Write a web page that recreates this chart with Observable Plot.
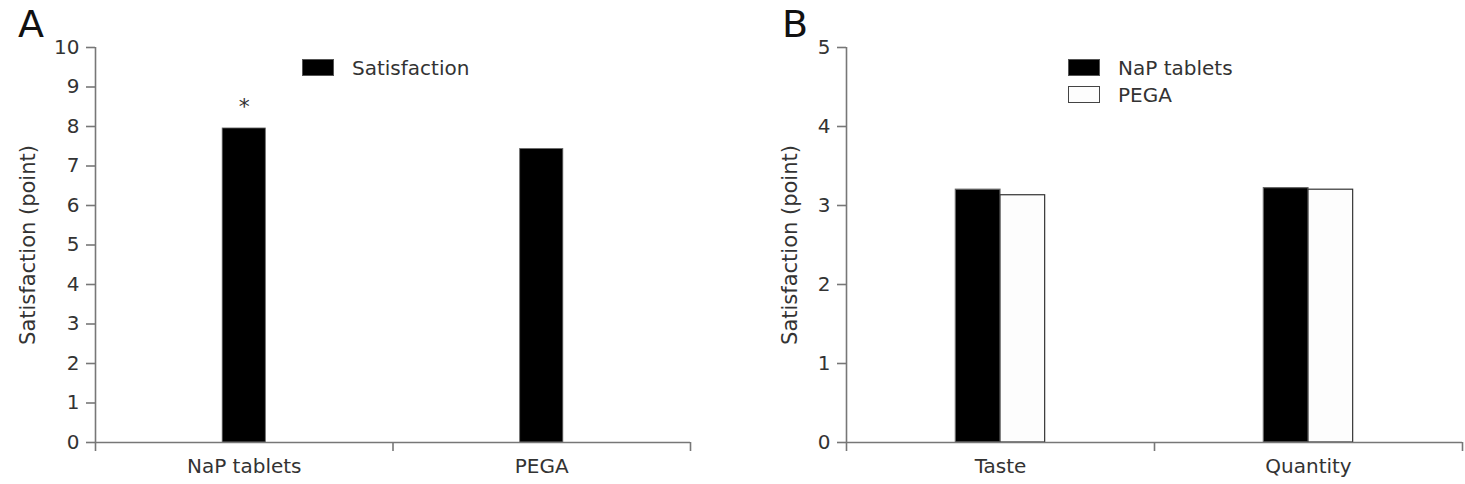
<!DOCTYPE html>
<html>
<head>
<meta charset="utf-8">
<script src="https://cdn.jsdelivr.net/npm/d3@7"></script>
<script src="https://cdn.jsdelivr.net/npm/@observablehq/plot@0.6"></script>
<style>
  html, body { margin: 0; padding: 0; background: #fff; }
  #fig { position: relative; width: 1465px; height: 484px; font-family: "DejaVu Sans", sans-serif; color: #333; }
  .panel { position: absolute; top: 0; }
  .letter { position: absolute; font-size: 38px; color: #111; line-height: 1; }
  .legend { position: absolute; font-size: 20px; color: #333; }
  .legend .row { display: flex; align-items: center; height: 27px; }
  .legend .sw { width: 32px; height: 17px; box-sizing: border-box; margin-right: 18px; }
</style>
</head>
<body>
<div id="fig"></div>
<script>
// Panel A: overall satisfaction by preparation
const prepA = ["NaP tablets", "PEGA"];
const satisfactionA = [7.95, 7.43];
const signifA = ["*", ""];
const yTicksA = [0, 1, 2, 3, 4, 5, 6, 7, 8, 9, 10];

// Panel B: satisfaction with taste and quantity
const aspectsB = ["Taste", "Quantity"];
const napB = [3.20, 3.22];
const pegaB = [3.13, 3.20];
const yTicksB = [0, 1, 2, 3, 4, 5];
const seriesB = ["NaP tablets", "PEGA"];

const yTitle = "Satisfaction (point)";
const AXIS = "#777";
const TEXT = "#333";
const BAR_W = 0.145;

function axes(cats, yTicks, titleOffset) {
  const n = cats.length;
  return [
    Plot.axisY({ticks: yTicks, tickSize: 9, tickPadding: 7, stroke: AXIS, strokeWidth: 1.6, fill: TEXT,
      fontSize: 20, tickFormat: d3.format("d"), label: null}),
    Plot.axisX({ticks: d3.range(n + 1), tickSize: 9, tickFormat: () => "", stroke: AXIS, strokeWidth: 1.6, label: null}),
    Plot.axisX({ticks: d3.range(n).map(i => i + 0.5), tickSize: 0, tickPadding: 16, fill: TEXT,
      fontSize: 20, tickFormat: v => cats[Math.floor(v)], label: null}),
    Plot.text([yTitle], {frameAnchor: "left", textAnchor: "middle", rotate: -90, dx: -titleOffset,
      text: d => d, fontSize: 21, fill: TEXT}),
    Plot.ruleX([0], {stroke: AXIS, strokeWidth: 1.6}),
    Plot.ruleY([0], {stroke: AXIS, strokeWidth: 1.6})
  ];
}

const rowsA = prepA.map((p, i) => ({p, i, value: satisfactionA[i], mark: signifA[i]}));
const plotA = Plot.plot({
  width: 732, height: 484,
  marginLeft: 95, marginRight: 42, marginTop: 47, marginBottom: 42,
  style: {fontFamily: "DejaVu Sans, sans-serif", fontSize: "19px", color: TEXT, background: "transparent"},
  x: {type: "linear", domain: [0, prepA.length], axis: null},
  y: {domain: [0, 10], axis: null},
  marks: [
    Plot.rectY(rowsA, {x1: d => d.i + 0.5 - BAR_W / 2, x2: d => d.i + 0.5 + BAR_W / 2, y: "value",
      fill: "#000", stroke: "#666", strokeWidth: 0.8}),
    Plot.text(rowsA, {x: d => d.i + 0.5, y: "value", text: "mark", dy: -22, fontSize: 22, fill: TEXT}),
    ...axes(prepA, yTicksA, 67)
  ]
});

const rowsB = aspectsB.flatMap((a, i) => [
  {a, i, s: seriesB[0], value: napB[i], off: -1},
  {a, i, s: seriesB[1], value: pegaB[i], off: 0}
]);
const plotB = Plot.plot({
  width: 733, height: 484,
  marginLeft: 114, marginRight: 3, marginTop: 47, marginBottom: 42,
  style: {fontFamily: "DejaVu Sans, sans-serif", fontSize: "19px", color: TEXT, background: "transparent"},
  x: {type: "linear", domain: [0, aspectsB.length], axis: null},
  y: {domain: [0, 5], axis: null},
  color: {domain: seriesB, range: ["#000", "#fdfdfd"]},
  marks: [
    Plot.rectY(rowsB, {x1: d => d.i + 0.5 + d.off * BAR_W, x2: d => d.i + 0.5 + (d.off + 1) * BAR_W, y: "value",
      fill: "s", stroke: d => d.off < 0 ? "#666" : "#333", strokeWidth: 1.2}),
    ...axes(aspectsB, yTicksB, 56)
  ]
});

const fig = document.getElementById("fig");
function place(el, left) {
  const wrap = document.createElement("div");
  wrap.className = "panel";
  wrap.style.left = left + "px";
  wrap.appendChild(el);
  fig.appendChild(wrap);
}
place(plotA, 0);
place(plotB, 732);

function letter(t, left, top) {
  const d = document.createElement("div");
  d.className = "letter";
  d.textContent = t;
  d.style.left = left + "px";
  d.style.top = top + "px";
  fig.appendChild(d);
}
letter("A", 18, 5);
letter("B", 782, 5);

function legend(items, left, top) {
  const d = document.createElement("div");
  d.className = "legend";
  d.style.left = left + "px";
  d.style.top = top + "px";
  for (const [label, fill, stroke] of items) {
    const r = document.createElement("div");
    r.className = "row";
    const s = document.createElement("div");
    s.className = "sw";
    s.style.background = fill;
    s.style.border = "1.5px solid " + stroke;
    const t = document.createElement("span");
    t.textContent = label;
    r.appendChild(s);
    r.appendChild(t);
    d.appendChild(r);
  }
  fig.appendChild(d);
}
legend([["Satisfaction", "#000", "#555"]], 302, 54);
legend([[seriesB[0], "#000", "#555"], [seriesB[1], "#fdfdfd", "#444"]], 1068, 54);
</script>
</body>
</html>
